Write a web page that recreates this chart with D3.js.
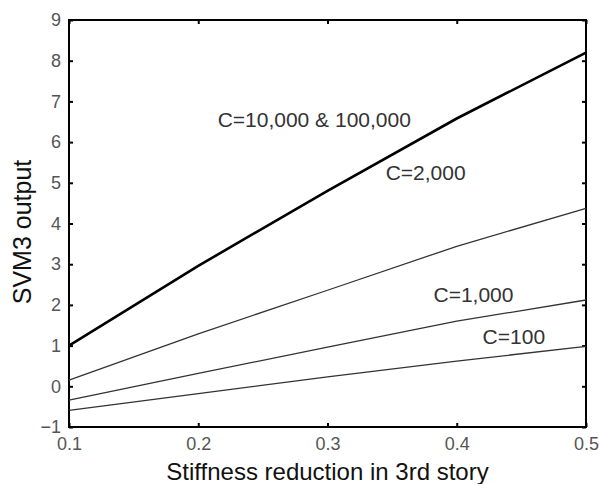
<!DOCTYPE html>
<html>
<head>
<meta charset="utf-8">
<script src="https://cdn.jsdelivr.net/npm/d3@7"></script>
<style>
    body { margin: 0; background: #fff; }
    text { font-family: Arial, "Liberation Sans", sans-serif; }
</style>
</head>
<body>
<div id="chart"></div>
<script>
// data
const xValues = [0.1, 0.2, 0.3, 0.4, 0.5];
const c10000 = [1.0, 2.96, 4.8, 6.58, 8.2];
const c2000 = [0.15, 1.29, 2.36, 3.44, 4.37];
const c1000 = [-0.34, 0.32, 0.96, 1.6, 2.12];
const c100 = [-0.59, -0.18, 0.23, 0.62, 0.98];

const xTicks = [0.1, 0.2, 0.3, 0.4, 0.5];
const yTicks = [-1, 0, 1, 2, 3, 4, 5, 6, 7, 8, 9];

const seriesNames = ["C=10,000 & 100,000", "C=2,000", "C=1,000", "C=100"];
const seriesValues = [c10000, c2000, c1000, c100];
// where each label sits, in data units
const labelX = [0.215, 0.345, 0.382, 0.42];
const labelY = [6.37, 5.07, 2.07, 1.04];

const width = 599;
const height = 484;
const margin = { top: 20, right: 13, bottom: 57, left: 69 };
const innerW = width - margin.left - margin.right;
const innerH = height - margin.top - margin.bottom;

const svg = d3.select("div#chart")
    .append("svg")
    .attr("width", width)
    .attr("height", height);

const g = svg.append("g")
    .attr("transform", `translate(${margin.left},${margin.top})`);

const x = d3.scaleLinear().domain([0.1, 0.5]).range([0, innerW]);
const y = d3.scaleLinear().domain([-1, 9]).range([innerH, 0]);

// axes, ticks pointing inward on every side
const tickLen = 4;
const xAxis = g.append("g")
    .attr("transform", `translate(0,${innerH})`)
    .call(d3.axisBottom(x).tickValues(xTicks).tickSizeInner(-tickLen).tickSizeOuter(0).tickPadding(10).tickFormat(d3.format(".1f")));
const yAxis = g.append("g")
    .call(d3.axisLeft(y).tickValues(yTicks).tickSizeInner(-tickLen).tickSizeOuter(0).tickPadding(8));
const xTop = g.append("g")
    .call(d3.axisTop(x).tickValues(xTicks).tickSizeInner(-tickLen).tickSizeOuter(0).tickFormat(""));
const yRight = g.append("g")
    .attr("transform", `translate(${innerW},0)`)
    .call(d3.axisRight(y).tickValues(yTicks).tickSizeInner(-tickLen).tickSizeOuter(0).tickFormat(""));

[xAxis, yAxis, xTop, yRight].forEach((a) => {
    a.select(".domain").remove();
    a.selectAll(".tick line").attr("stroke", "#000").attr("stroke-width", 2);
});
[xAxis, yAxis].forEach((a) => {
    a.selectAll(".tick text")
        .attr("font-size", 18)
        .attr("fill", "#555")
        .attr("font-family", "Arial, 'Liberation Sans', sans-serif");
});
xAxis.selectAll(".tick text").attr("dy", "0.71em");

// frame
g.append("rect")
    .attr("width", innerW)
    .attr("height", innerH)
    .attr("fill", "none")
    .attr("stroke", "#000")
    .attr("stroke-width", 2);

// lines
const line = d3.line()
    .x((d, i) => x(xValues[i]))
    .y((d) => y(d));

g.selectAll("path.series")
    .data(seriesValues)
    .enter()
    .append("path")
    .attr("class", "series")
    .attr("d", line)
    .attr("fill", "none")
    .attr("stroke", (d, i) => (i === 0 ? "#000" : "#333"))
    .attr("stroke-width", (d, i) => (i === 0 ? 2.6 : 1.3));

// labels
g.selectAll("text.lbl")
    .data(seriesNames)
    .enter()
    .append("text")
    .attr("class", "lbl")
    .attr("x", (d, i) => x(labelX[i]))
    .attr("y", (d, i) => y(labelY[i]))
    .attr("font-size", 21)
    .attr("fill", "#333")
    .text((d) => d);

// axis titles
svg.append("text")
    .attr("x", margin.left + innerW / 2)
    .attr("y", 480)
    .attr("text-anchor", "middle")
    .attr("font-size", 24)
    .attr("fill", "#111")
    .text("Stiffness reduction in 3rd story");

svg.append("text")
    .attr("transform", "translate(31,232) rotate(-90)")
    .attr("text-anchor", "middle")
    .attr("font-size", 25)
    .attr("fill", "#111")
    .text("SVM3 output");
</script>
</body>
</html>
